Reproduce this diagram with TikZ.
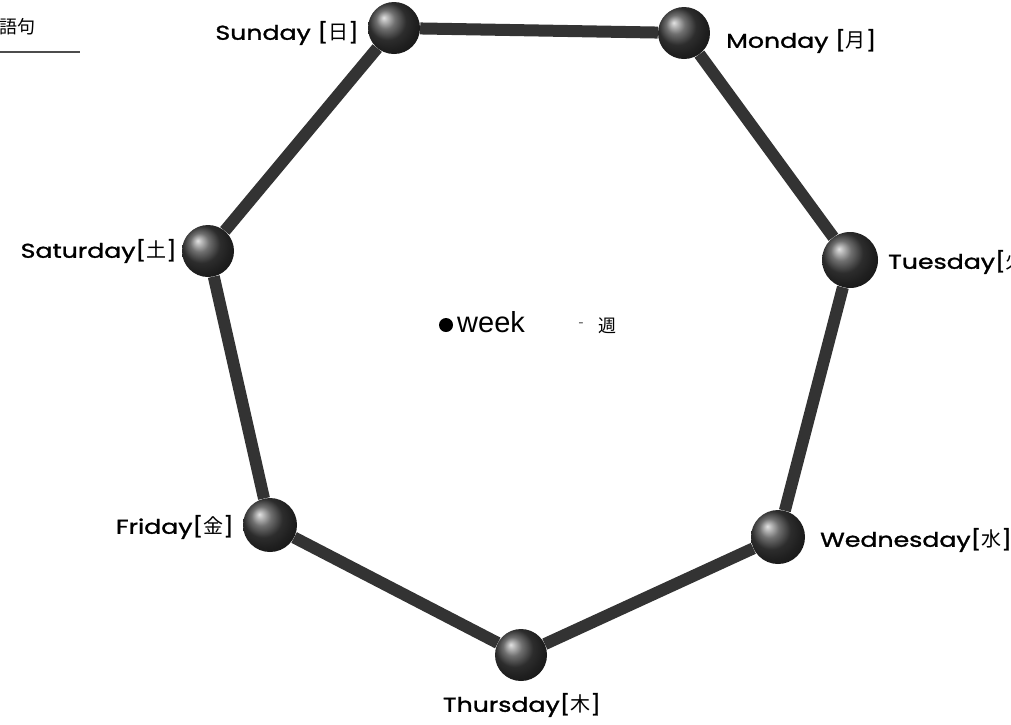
\documentclass[tikz,border=0pt]{standalone}
\usepackage{fontspec}
\setmainfont{Poppins}
\newfontfamily\dayfont[FakeStretch=1.26, FakeBold=1.4]{Poppins}
\newfontfamily\cjk{Noto Sans CJK JP}
\newfontfamily\plainfont{Liberation Sans}

\begin{document}
\begin{tikzpicture}[
  x=1pt, y=-1pt,
  ball/.style={circle, minimum size=52pt, inner sep=0pt,
               shading=ball, ball color=black!75},
  link/.style={line width=12pt, black!80},
  daylabel/.style={font=\dayfont\fontsize{20}{22}\selectfont, inner sep=0pt},
]
% Canvas: 1011 x 724 px, y downwards
\clip (0,0) rectangle (1011,724);

% --- Title (cut at the left edge) ---
\node[anchor=east, inner sep=0pt, font=\cjk\fontsize{18}{18}\selectfont] (title) at (36,27) {語句};
\draw[black!70, line width=1.5pt] (0,52) -- (80,52);

% --- Days ---
\node[ball] (sun) at (394,28) {};
\node[ball] (mon) at (684,33) {};
\node[ball, minimum size=56pt] (tue) at (850,260) {};
\node[ball, minimum size=54pt] (wed) at (778,537) {};
\node[ball] (thu) at (521,655) {};
\node[ball, minimum size=54pt] (fri) at (270,525) {};
\node[ball] (sat) at (208,251) {};

% --- Ring ---
\foreach \a/\b in {sun/mon, mon/tue, tue/wed, wed/thu, thu/fri, fri/sat, sat/sun}
  \draw[link] (\a) -- (\b);

% --- Labels ---
\node[daylabel, anchor=east] (sunlbl) at (359,33) {Sunday [{\cjk 日}]};
\node[daylabel, anchor=west] (monlbl) at (726,41) {Monday [{\cjk 月}]};
\node[daylabel, anchor=west] (tuelbl) at (888,262) {Tuesday[{\cjk 火}]};
\node[daylabel, anchor=west] (wedlbl) at (820,540) {Wednesday[{\cjk 水}]};
\node[daylabel] (thulbl) at (522,705) {Thursday[{\cjk 木}]};
\node[daylabel, anchor=east] (frilbl) at (234,527) {Friday[{\cjk 金}]};
\node[daylabel, anchor=east] (satlbl) at (177,251) {Saturday[{\cjk 土}]};

% --- Centre ---
\node[circle, fill=black, minimum size=14pt, inner sep=0pt] (dot) at (446,325) {};
\node[anchor=west, inner sep=0pt, font=\plainfont\fontsize{29}{30}\selectfont] (week) at (457,322) {week};
\node[inner sep=0pt, black!60, font=\plainfont\fontsize{16}{16}\selectfont] (dash) at (581,325) {-};
\node[anchor=west, inner sep=0pt, font=\cjk\fontsize{18}{18}\selectfont] (shu) at (598,326) {週};

\end{tikzpicture}
\end{document}
